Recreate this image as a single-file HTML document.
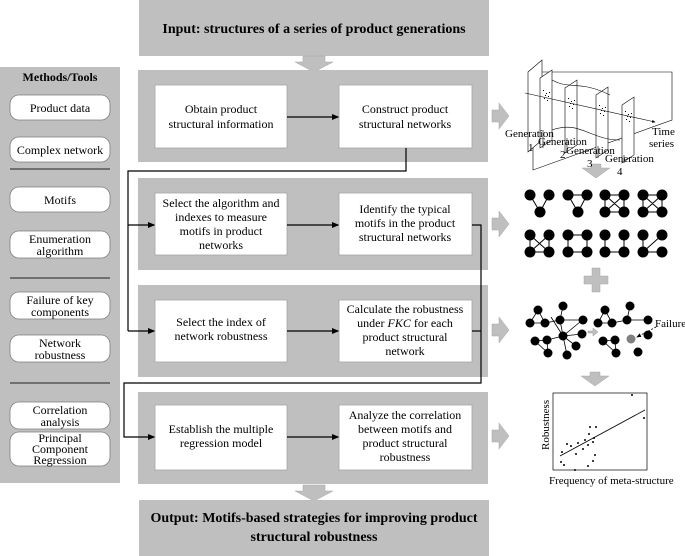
<!DOCTYPE html>
<html><head><meta charset="utf-8"><style>
body{margin:0;width:685px;height:556px;background:#fff;overflow:hidden}
svg{display:block}
text{font-family:"Liberation Serif",serif;fill:#000}
</style></head><body>
<svg width="685" height="556" viewBox="0 0 685 556">
<defs><marker id="a" markerWidth="6" markerHeight="6" refX="5" refY="3" orient="auto"><path d="M0,0.5 L6,3 L0,5.5 z" fill="#000"/></marker></defs>
<rect x="139" y="0" width="350" height="56" fill="#bfbfbf"/>
<text x="314" y="33" font-size="14" font-weight="bold" text-anchor="middle">Input: structures of a series of product generations</text>
<path d="M303,56 h22 v6 h8 l-19,10 l-19,-10 h8z" fill="#bfbfbf" stroke="#a6a6a6" stroke-width="0.5"/>
<rect x="0" y="67" width="120" height="416" fill="#bfbfbf"/>
<text x="60" y="81" font-size="12" font-weight="bold" text-anchor="middle">Methods/Tools</text>
<g fill="#fff" stroke="#7f7f7f" stroke-width="0.8">
<rect x="10" y="95" width="100" height="25" rx="9"/>
<rect x="10" y="137" width="100" height="25" rx="9"/>
<rect x="10" y="187" width="100" height="25" rx="9"/>
<rect x="10" y="231" width="100" height="27" rx="9"/>
<rect x="10" y="292" width="100" height="27" rx="9"/>
<rect x="10" y="335" width="100" height="27" rx="9"/>
<rect x="10" y="402" width="100" height="27" rx="9"/>
<rect x="10" y="432" width="100" height="34" rx="9"/>
</g>
<g stroke="#404040" stroke-width="1.2"><line x1="10" y1="169" x2="110" y2="169"/><line x1="10" y1="278" x2="110" y2="278"/><line x1="10" y1="383" x2="110" y2="383"/></g>
<g font-size="12" text-anchor="middle">
<text x="60" y="112">Product data</text>
<text x="60" y="154">Complex network</text>
<text x="60" y="204">Motifs</text>
<text x="60" y="243">Enumeration</text><text x="60" y="255">algorithm</text>
<text x="60" y="304">Failure of key</text><text x="60" y="316">components</text>
<text x="60" y="347">Network</text><text x="60" y="359">robustness</text>
<text x="60" y="414">Correlation</text><text x="60" y="426">analysis</text>
<text x="60" y="442">Principal</text><text x="60" y="453">Component</text><text x="60" y="464">Regression</text>
</g>
<g fill="#bfbfbf"><rect x="138" y="70" width="350" height="92"/><rect x="138" y="178" width="350" height="92"/><rect x="138" y="285" width="350" height="92"/><rect x="138" y="392" width="350" height="92"/></g>
<g fill="#fff" stroke="#a6a6a6" stroke-width="0.8">
<rect x="155" y="85" width="132" height="63"/><rect x="339" y="85" width="133" height="63"/>
<rect x="155" y="193" width="132" height="62"/><rect x="339" y="193" width="133" height="62"/>
<rect x="155" y="300" width="132" height="62"/><rect x="339" y="300" width="133" height="62"/>
<rect x="155" y="405" width="132" height="65"/><rect x="339" y="405" width="133" height="65"/>
</g>
<g font-size="12" text-anchor="middle">
<text x="221" y="113">Obtain  product</text><text x="221" y="128">structural information</text>
<text x="405" y="113">Construct  product</text><text x="405" y="128">structural networks</text>
<text x="221" y="207">Select the algorithm and</text><text x="221" y="221">indexes to measure</text><text x="221" y="235">motifs in product</text><text x="221" y="249">networks</text>
<text x="405" y="213">Identify the typical</text><text x="405" y="227">motifs in the product</text><text x="405" y="241">structural networks</text>
<text x="221" y="326">Select the index of</text><text x="221" y="340">network robustness</text>
<text x="405" y="313">Calculate the robustness</text><text x="405" y="327">under  <tspan font-style="italic">FKC</tspan> for each</text><text x="405" y="341">product structural</text><text x="405" y="355">network</text>
<text x="221" y="433">Establish the multiple</text><text x="221" y="447">regression model</text>
<text x="405" y="419">Analyze the correlation</text><text x="405" y="433">between motifs and</text><text x="405" y="447">product structural</text><text x="405" y="461">robustness</text>
</g>
<g stroke="#000" stroke-width="1.2" fill="none">
<line x1="287" y1="117" x2="338" y2="117" marker-end="url(#a)"/>
<line x1="287" y1="225" x2="338" y2="225" marker-end="url(#a)"/>
<line x1="287" y1="331" x2="338" y2="331" marker-end="url(#a)"/>
<line x1="287" y1="437" x2="338" y2="437" marker-end="url(#a)"/>
<polyline points="406,148 406,171 128,171 128,225 154,225" marker-end="url(#a)"/>
<line x1="128" y1="225" x2="128" y2="331"/><line x1="128" y1="331" x2="154" y2="331" marker-end="url(#a)"/>
<polyline points="472,225 481,225 481,383 124,383 124,437 154,437" marker-end="url(#a)"/>
<line x1="472" y1="331" x2="481" y2="331"/>
</g>
<path d="M303,485 h22 v6 h8 l-19,10 l-19,-10 h8z" fill="#bfbfbf" stroke="#a6a6a6" stroke-width="0.5"/>
<rect x="139" y="500" width="350" height="56" fill="#bfbfbf"/>
<text x="314" y="522" font-size="14" font-weight="bold" text-anchor="middle">Output: Motifs-based strategies for improving product</text>
<text x="314" y="541" font-size="14" font-weight="bold" text-anchor="middle">structural robustness</text>
<g fill="#bfbfbf" stroke="#a6a6a6" stroke-width="0.5">
<path d="M492,110 h7 v-7 l10,13 l-10,13 v-7 h-7z"/>
<path d="M492,218 h7 v-7 l10,13 l-10,13 v-7 h-7z"/>
<path d="M492,324 h7 v-7 l10,13 l-10,13 v-7 h-7z"/>
<path d="M492,430 h7 v-7 l10,13 l-10,13 v-7 h-7z"/>
<path d="M591,164 h10 v4 h9 l-14,10 l-14,-10 h9z"/>
<path d="M590,372 h10 v4 h9 l-14,10 l-14,-10 h9z"/>
<path d="M592,268 h8 v8 h8 v8 h-8 v8 h-8 v-8 h-8 v-8 h8z"/>
</g>
<!-- generations figure -->
<g stroke="#000" stroke-width="0.6" fill="none">
<polygon points="533,72 672,72 672,120 533,170"/>
<polygon points="528,72 542,60 542,140 528,152" fill="#fff"/>
<polygon points="540,78 552,70 552,140 540,148" fill="#fff"/>
<polygon points="565,88 577,80 577,145 565,153" fill="#fff"/>
<polygon points="596,95 608,87 608,150 596,158" fill="#fff"/>
<polygon points="622,105 634,97 634,155 622,163" fill="#fff"/>
<line x1="525" y1="93" x2="655" y2="122" marker-end="url(#a)"/>
<path d="M552,80 C570,90 580,80 610,95 M552,130 C580,120 590,140 620,140"/>
<line x1="543" y1="148" x2="543" y2="130"/><line x1="567" y1="153" x2="567" y2="138"/><line x1="598" y1="158" x2="598" y2="146"/><line x1="624" y1="163" x2="624" y2="155"/>
</g>
<g fill="#000">
<path d="M543,90h1v1h-1zM546,93h1v1h-1zM548,96h1v1h-1zM544,98h1v1h-1zM547,100h1v1h-1zM549,92h1v1h-1zM545,95h1v1h-1z"/>
<path d="M568,98h1v1h-1zM571,101h1v1h-1zM573,104h1v1h-1zM569,106h1v1h-1zM572,108h1v1h-1zM574,100h1v1h-1zM570,103h1v1h-1z"/>
<path d="M599,105h1v1h-1zM602,108h1v1h-1zM604,111h1v1h-1zM600,113h1v1h-1zM603,115h1v1h-1zM605,107h1v1h-1zM601,110h1v1h-1z"/>
<path d="M625,111h1v1h-1zM628,114h1v1h-1zM630,117h1v1h-1zM626,119h1v1h-1zM629,121h1v1h-1zM631,113h1v1h-1zM627,116h1v1h-1z"/>
</g>
<g font-size="11">
<text x="505" y="137">Generation</text><text x="528" y="151">1</text>
<text x="538" y="145">Generation</text><text x="560" y="158">2</text>
<text x="566" y="154">Generation</text><text x="587" y="167">3</text>
<text x="605" y="162">Generation</text><text x="617" y="175">4</text>
<text x="652" y="135">Time</text><text x="649" y="147">series</text>
</g>
<!-- motifs -->
<g stroke="#000" stroke-width="1" fill="none">
<path d="M530,195 L540,212 L549,195 M568,195 L587,195 L578,212 L568,195 M605,195 H624 V212 H605 Z M605,195 L624,212 M624,195 L605,212 M643,195 H662 M643,195 V212 H662 V195 M643,195 L662,212 M662,195 L643,212"/>
<path d="M530,235 V252 H549 V235 M530,235 L549,252 M549,235 L530,252 M568,235 H587 M568,235 V252 H587 V235 M605,235 V252 H624 V235 M643,235 V252 H662 M643,252 L662,235"/>
</g>
<g fill="#000">
<circle cx="530" cy="195" r="5.5"/><circle cx="549" cy="195" r="5.5"/><circle cx="540" cy="212" r="5.5"/>
<circle cx="568" cy="195" r="5.5"/><circle cx="587" cy="195" r="5.5"/><circle cx="578" cy="212" r="5.5"/>
<circle cx="605" cy="195" r="5.5"/><circle cx="624" cy="195" r="5.5"/><circle cx="605" cy="212" r="5.5"/><circle cx="624" cy="212" r="5.5"/>
<circle cx="643" cy="195" r="5.5"/><circle cx="662" cy="195" r="5.5"/><circle cx="643" cy="212" r="5.5"/><circle cx="662" cy="212" r="5.5"/>
<circle cx="530" cy="235" r="5.5"/><circle cx="549" cy="235" r="5.5"/><circle cx="530" cy="252" r="5.5"/><circle cx="549" cy="252" r="5.5"/>
<circle cx="568" cy="235" r="5.5"/><circle cx="587" cy="235" r="5.5"/><circle cx="568" cy="252" r="5.5"/><circle cx="587" cy="252" r="5.5"/>
<circle cx="605" cy="235" r="5.5"/><circle cx="624" cy="235" r="5.5"/><circle cx="605" cy="252" r="5.5"/><circle cx="624" cy="252" r="5.5"/>
<circle cx="643" cy="235" r="5.5"/><circle cx="662" cy="235" r="5.5"/><circle cx="643" cy="252" r="5.5"/><circle cx="662" cy="252" r="5.5"/>
</g>
<!-- network -->
<g stroke="#000" stroke-width="0.8" fill="none">
<path d="M538,310 L530,323 L545,323 Z M545,323 L560,320 L563,306 M560,320 L563,336 M563,336 L551,317 M563,336 L582,334 M563,336 L576,346 M563,336 L567,355 M563,336 L580,322 M535,341 L548,353 L547,340 Z M547,340 L563,336 M560,320 L583,320"/>
<path d="M605,310 L598,323 L612,323 Z M612,323 L627,320 L630,306 M627,320 L648,320 M603,341 L616,353 L615,340 Z"/>
</g>
<g fill="#000">
<circle cx="538" cy="310" r="4.5"/><circle cx="530" cy="323" r="4.5"/><circle cx="545" cy="323" r="4.5"/><circle cx="560" cy="320" r="4.5"/><circle cx="563" cy="306" r="4.5"/><circle cx="563" cy="336" r="4.5"/><circle cx="583" cy="320" r="4.5"/><circle cx="582" cy="334" r="4.5"/><circle cx="576" cy="346" r="4.5"/><circle cx="567" cy="355" r="4.5"/><circle cx="535" cy="341" r="4.5"/><circle cx="548" cy="353" r="4.5"/><circle cx="547" cy="340" r="4.5"/>
<circle cx="605" cy="310" r="4.5"/><circle cx="598" cy="323" r="4.5"/><circle cx="612" cy="323" r="4.5"/><circle cx="627" cy="320" r="4.5"/><circle cx="630" cy="306" r="4.5"/><circle cx="648" cy="320" r="4.5"/><circle cx="603" cy="341" r="4.5"/><circle cx="616" cy="353" r="4.5"/><circle cx="615" cy="340" r="4.5"/><circle cx="648" cy="335" r="4.5"/><circle cx="638" cy="352" r="4.5"/>
<circle cx="631" cy="339" r="4.5" fill="#808080"/>
</g>
<path d="M588,331 h5 v-3 l5,4 l-5,4 v-3 h-5z" fill="#bfbfbf" stroke="#999" stroke-width="0.5"/>
<line x1="656" y1="327" x2="637" y2="337" stroke="#000" stroke-width="0.8" stroke-dasharray="2,1.5" marker-end="url(#a)"/>
<text x="655" y="327" font-size="11">Failure</text>
<!-- scatter -->
<rect x="553" y="393" width="94" height="77" fill="none" stroke="#000" stroke-width="0.7"/>
<line x1="560" y1="456" x2="645" y2="410" stroke="#000" stroke-width="0.8"/>
<g fill="#000">
<circle cx="632" cy="395" r="1"/><circle cx="644" cy="418" r="1"/><circle cx="590" cy="427" r="1"/><circle cx="596" cy="427" r="1"/><circle cx="567" cy="444" r="1"/><circle cx="571" cy="446" r="1"/><circle cx="578" cy="443" r="1"/><circle cx="585" cy="440" r="1"/><circle cx="588" cy="445" r="1"/><circle cx="583" cy="449" r="1"/><circle cx="589" cy="434" r="1"/><circle cx="593" cy="442" r="1"/><circle cx="594" cy="438" r="1"/><circle cx="595" cy="455" r="1"/><circle cx="564" cy="465" r="1"/><circle cx="561" cy="462" r="1"/><circle cx="588" cy="466" r="1"/><circle cx="593" cy="461" r="1"/><circle cx="575" cy="470" r="1"/><circle cx="576" cy="454" r="1"/><circle cx="562" cy="452" r="1"/>
</g>
<text x="549" y="450" font-size="11" transform="rotate(-90 549 450)">Robustness</text>
<text x="549" y="484" font-size="11">Frequency of meta-structure</text>
</svg>
</body></html>
